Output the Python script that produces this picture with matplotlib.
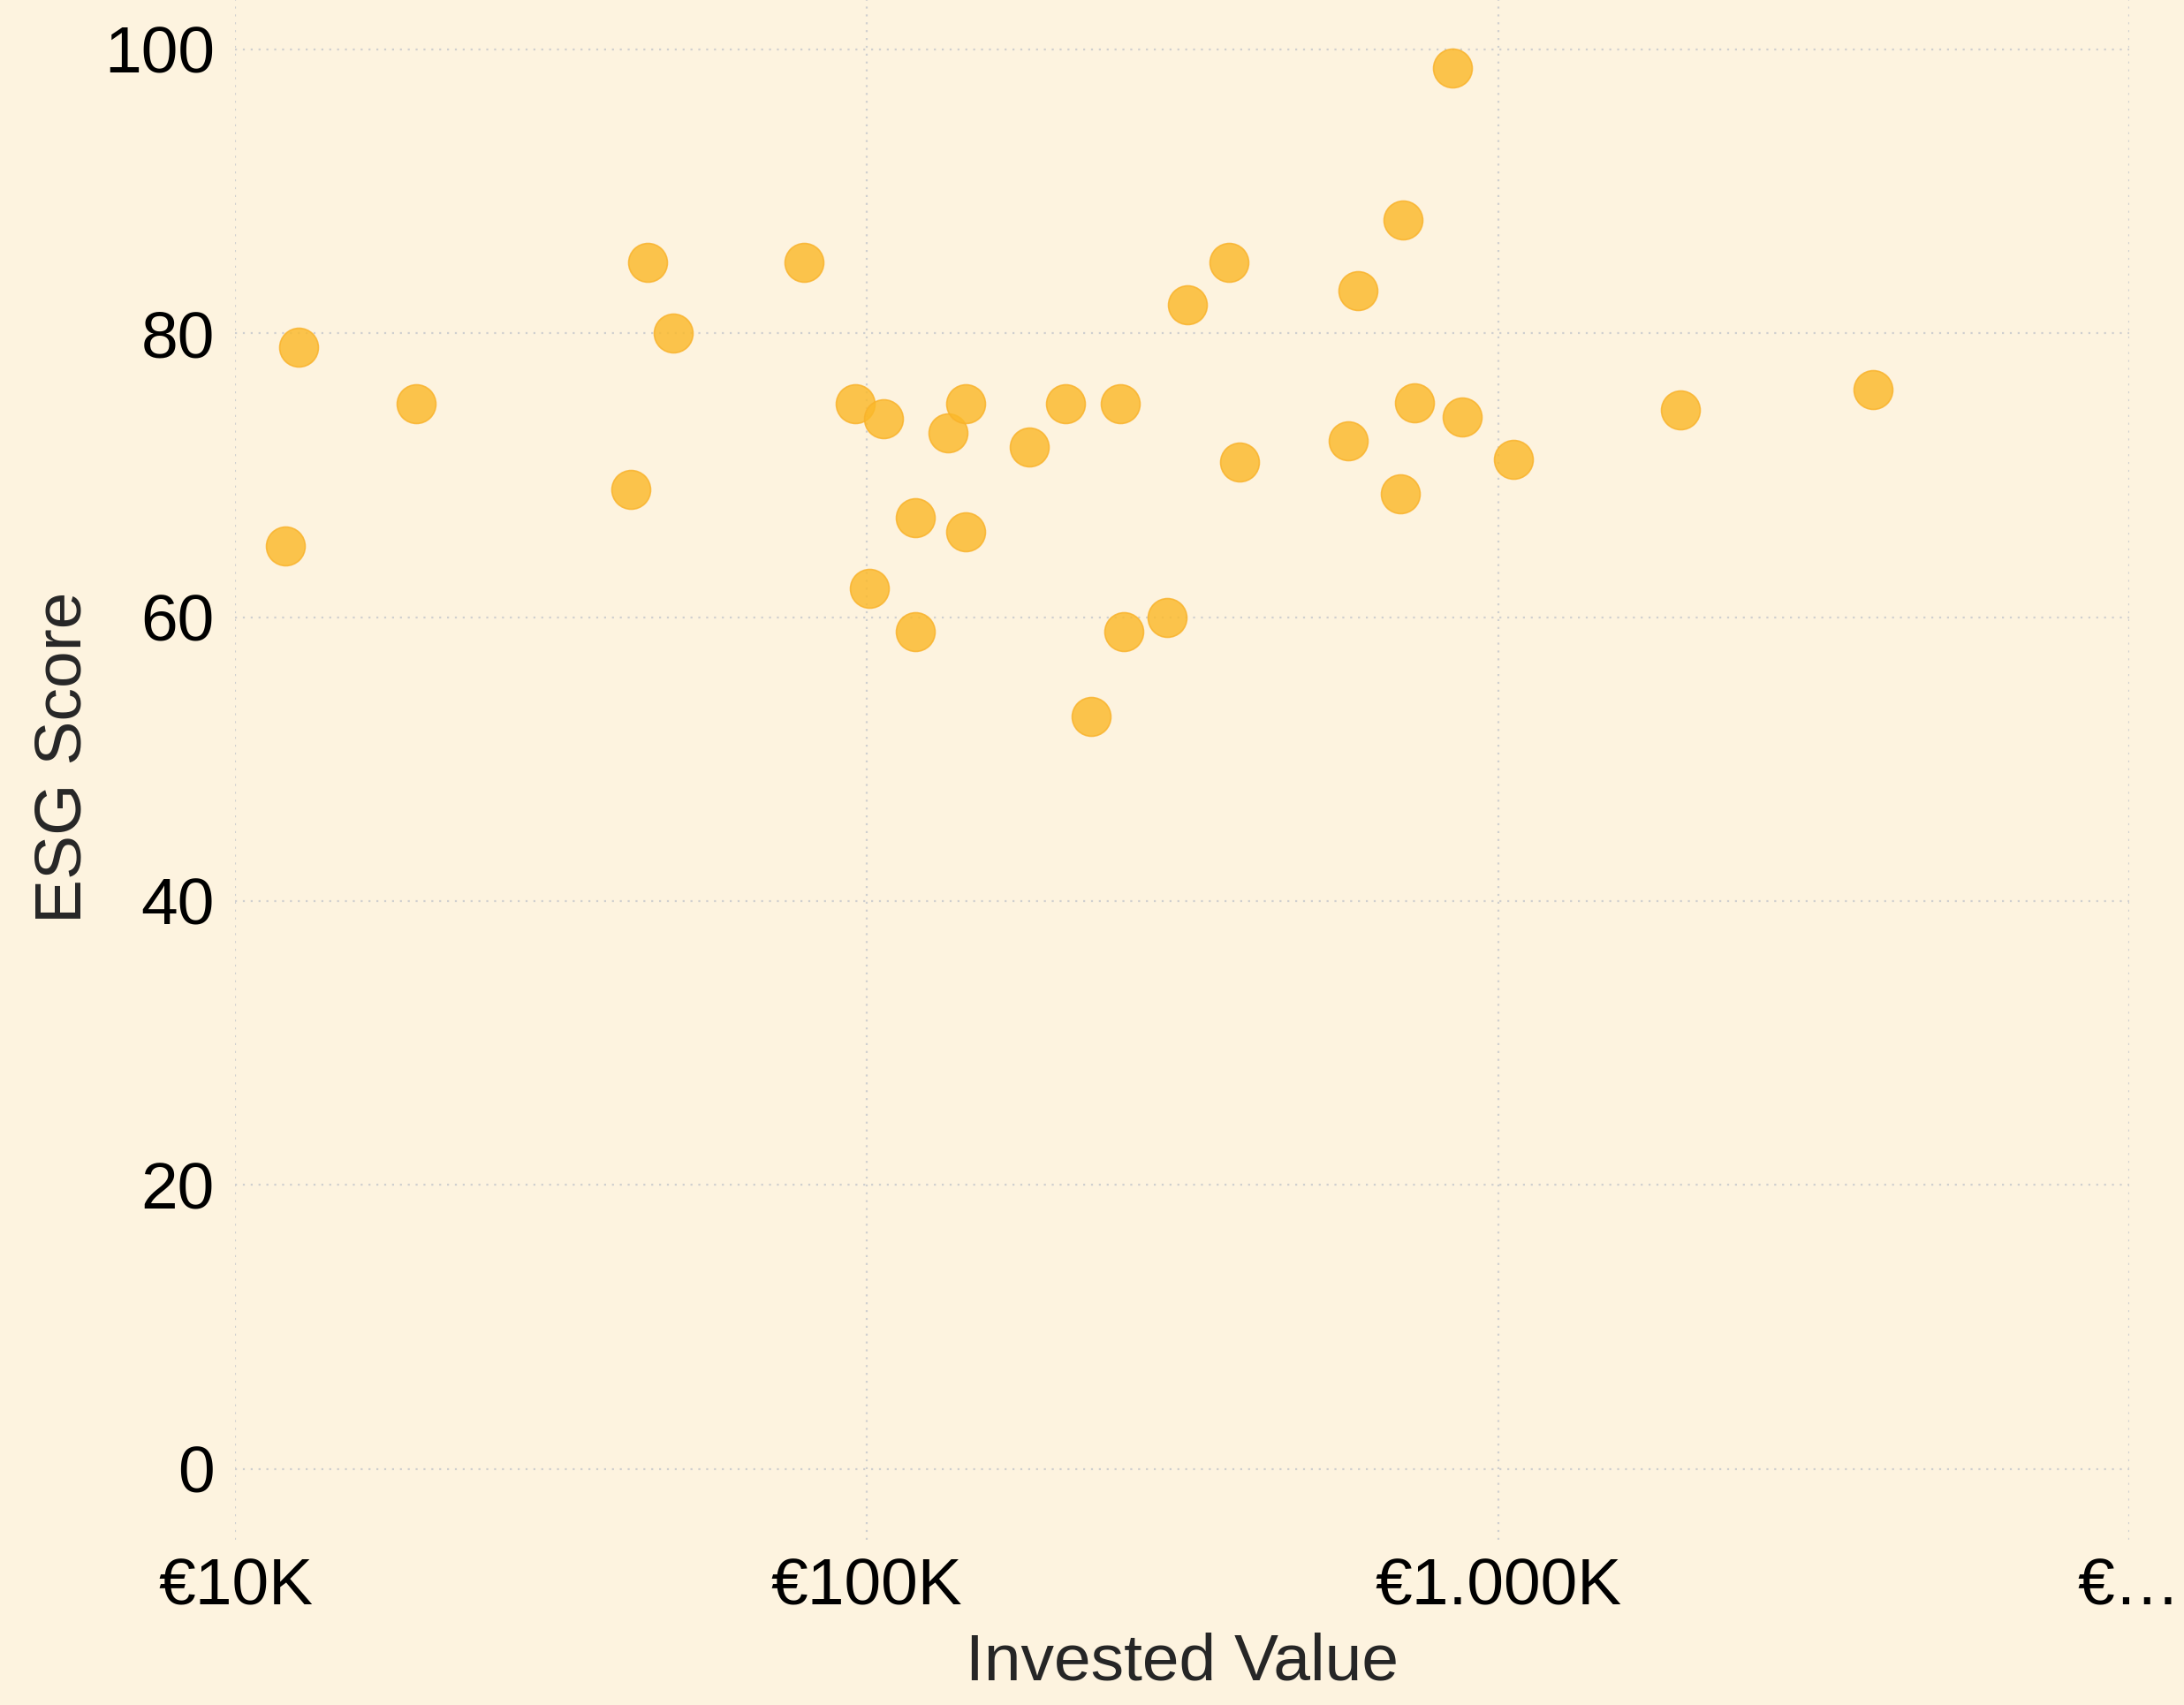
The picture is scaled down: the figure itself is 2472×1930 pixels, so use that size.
import numpy as np
import matplotlib.pyplot as plt
from matplotlib.ticker import FixedLocator, NullLocator

# data (invested value in EUR, ESG score)
invested = [12000, 12600, 19350, 42300, 45000, 49400, 79600, 95900, 100900, 106400,
            119300, 119300, 134500, 143500, 143500, 181000, 206300, 226600, 251900, 255600,
            299000, 321700, 375100, 389700, 578000, 599000, 700000, 707000, 736000, 847000,
            877000, 1059000, 1944000, 3930000]
esg_score = [65, 79, 75, 69, 85, 80, 85, 75, 62, 74,
             67, 59, 73, 75, 66, 72, 75, 53, 75, 59,
             60, 82, 85, 70.9, 72.4, 83, 68.7, 88, 75.1, 98.7,
             74.1, 71.1, 74.6, 76]

x_ticks = [1e4, 1e5, 1e6, 1e7]
x_tick_labels = ['€10K', '€100K', '€1.000K', '€…']
y_ticks = [0, 20, 40, 60, 80, 100]

bg = '#fdf3df'
plt.rcParams['font.family'] = ['Liberation Sans', 'DejaVu Sans']

fig = plt.figure(figsize=(12.36, 9.65), dpi=200, facecolor=bg)
ax = fig.add_axes([0.1078, 0.0969, 0.975 - 0.1078, 1 - 0.0969])
ax.set_facecolor(bg)

ax.scatter(invested, esg_score, s=250, color='#fbb92a', alpha=0.82,
           edgecolors='#f9b22a', linewidths=0.6, zorder=3)

ax.set_xscale('log')
ax.set_xlim(1e4, 1e7)
ax.set_ylim(-5, 103.47)

ax.xaxis.set_major_locator(FixedLocator(x_ticks))
ax.xaxis.set_minor_locator(NullLocator())
ax.set_xticklabels(x_tick_labels)
ax.set_yticks(y_ticks)

ax.tick_params(axis='both', length=0, labelsize=27, colors='black')
ax.tick_params(axis='x', pad=7)
ax.tick_params(axis='y', pad=8.5)

ax.grid(True, color='#cfcfcf', linestyle=(0, (1, 3)), linewidth=0.8, zorder=0)
for s in ax.spines.values():
    s.set_visible(False)

ax.set_xlabel('Invested Value', fontsize=27, color='#262626', labelpad=5.7)
ax.set_ylabel('ESG Score', fontsize=27, color='#262626', labelpad=4)
ax.yaxis.label.set_y(0.508)

fig.savefig('out.png', dpi=200, facecolor=bg)
